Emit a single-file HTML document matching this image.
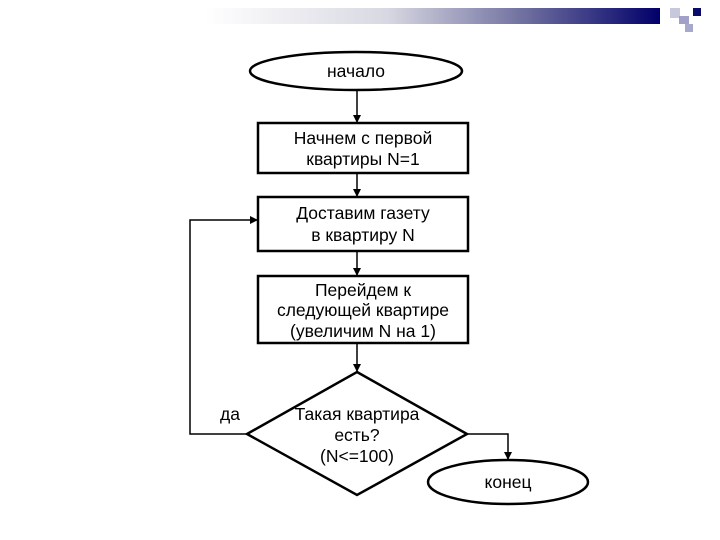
<!DOCTYPE html>
<html><head><meta charset="utf-8"><style>
body{margin:0;width:720px;height:540px;background:#fff;overflow:hidden}
</style></head><body>
<div style="position:absolute;left:205px;top:8px;width:455px;height:16px;background:linear-gradient(to right,#fff,#d8d8e2 40%,#7070a0 70%,#00006a)"></div>
<div style="position:absolute;left:670px;top:8px;width:10px;height:10px;background:#c8c8dc"></div>
<div style="position:absolute;left:693px;top:8px;width:8px;height:8px;background:#0a0a6a"></div>
<div style="position:absolute;left:679px;top:16px;width:10px;height:8px;background:#a0a0c8"></div>
<div style="position:absolute;left:685px;top:24px;width:8px;height:8px;background:#a8a8cc"></div>
<svg width="720" height="540" style="position:absolute;left:0;top:0" font-family="Liberation Sans, DejaVu Sans, sans-serif" font-size="17.5" text-anchor="middle">
<defs><marker id="a" markerWidth="8" markerHeight="8" refX="7" refY="4" orient="auto" markerUnits="userSpaceOnUse"><path d="M0,0L8,4L0,8z" fill="#000"/></marker></defs>
<g stroke="#000" stroke-width="2.5" fill="#fff">
<ellipse cx="356" cy="71" rx="106" ry="19"/>
<rect x="258" y="123" width="210" height="50"/>
<rect x="258" y="197" width="210" height="54"/>
<rect x="258" y="276" width="210" height="67"/>
<polygon points="357,372 467,434 357,495 247,434"/>
<ellipse cx="508" cy="482" rx="80" ry="22"/>
</g>
<g stroke="#000" stroke-width="1.5" fill="none">
<line x1="357" y1="90" x2="357" y2="122" marker-end="url(#a)"/>
<line x1="357" y1="173" x2="357" y2="196" marker-end="url(#a)"/>
<line x1="357" y1="251" x2="357" y2="275" marker-end="url(#a)"/>
<line x1="357" y1="343" x2="357" y2="371" marker-end="url(#a)"/>
<polyline points="247,434 190,434 190,220 257,220" marker-end="url(#a)"/>
<polyline points="467,434 508,434 508,459" marker-end="url(#a)"/>
</g>
<text x="356" y="77">начало</text>
<text x="363" y="144">Начнем с первой</text>
<text x="363" y="165">квартиры N=1</text>
<text x="363" y="219">Доставим газету</text>
<text x="363" y="241">в квартиру N</text>
<text x="363" y="296">Перейдем к</text>
<text x="363" y="316">следующей квартире</text>
<text x="363" y="337">(увеличим N на 1)</text>
<text x="357" y="420">Такая квартира</text>
<text x="357" y="441">есть?</text>
<text x="357" y="462">(N&lt;=100)</text>
<text x="230" y="420">да</text>
<text x="508" y="488">конец</text>
</svg>
</body></html>
